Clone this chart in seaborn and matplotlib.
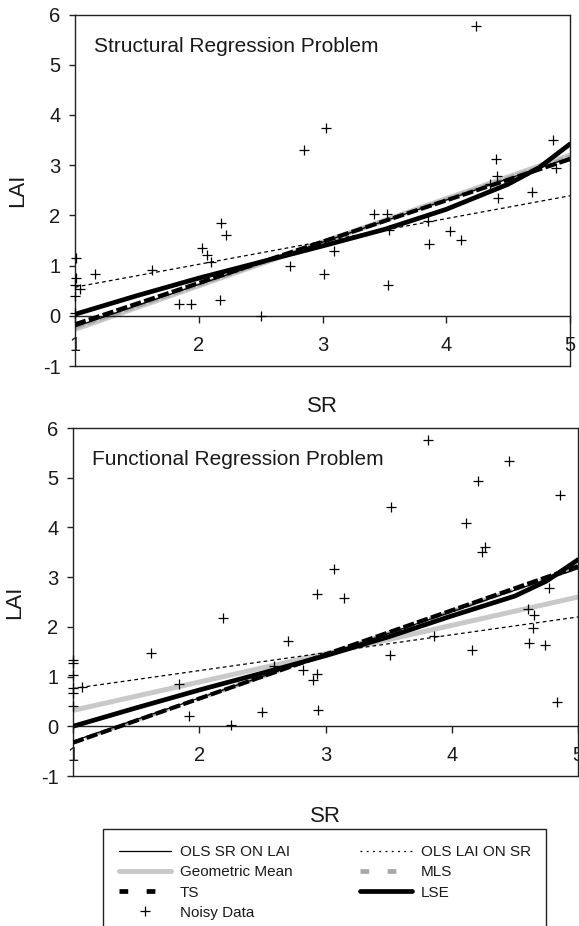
import matplotlib
matplotlib.use("Agg")
import matplotlib.pyplot as plt
from matplotlib.lines import Line2D
from matplotlib.patches import Rectangle
import seaborn as sns

# ---- data ----
line_sr = [1, 5]
curve_sr = [1, 1.5, 2, 2.5, 3, 3.5, 4, 4.5, 4.75, 5]

# structural regression problem
struct_ols_sr_on_lai = [-0.22, 3.15]
struct_geo_mean = [-0.27, 3.20]
struct_mls = [-0.24, 3.17]
struct_ts = [-0.17, 3.12]
struct_ols_lai_on_sr = [0.57, 2.39]
struct_lse = [0.03, 0.40, 0.75, 1.07, 1.39, 1.72, 2.12, 2.62, 2.95, 3.42]
struct_pts_sr = [4.24, 3.03, 2.85, 4.86, 4.40, 4.41, 4.35, 4.42, 4.69, 4.89,
                 3.42, 3.52, 3.54, 3.85, 3.86, 4.03, 4.12, 3.53, 2.18, 2.22,
                 2.03, 2.07, 2.10, 3.09, 3.01, 2.74, 1.62, 1.16, 1.04, 1.01,
                 1.01, 1.00, 1.00, 1.84, 1.94, 2.17, 2.50, 1.00]
struct_pts_lai = [5.77, 3.73, 3.31, 3.51, 3.13, 2.79, 2.63, 2.34, 2.47, 2.95,
                  2.02, 2.02, 1.70, 1.89, 1.43, 1.68, 1.51, 0.61, 1.85, 1.61,
                  1.35, 1.22, 1.07, 1.30, 0.84, 0.99, 0.91, 0.83, 0.54, 1.15,
                  0.75, 0.62, 0.39, 0.23, 0.23, 0.32, 0.00, 0.05]

# functional regression problem
func_ols_sr_on_lai = [-0.30, 3.17]
func_geo_mean = [0.32, 2.60]
func_mls = [-0.32, 3.19]
func_ts = [-0.33, 3.22]
func_ols_lai_on_sr = [0.76, 2.20]
func_lse = [0.00, 0.37, 0.73, 1.07, 1.42, 1.80, 2.22, 2.62, 2.92, 3.35]
func_pts_sr = [3.81, 4.45, 4.21, 4.86, 3.52, 4.11, 4.26, 4.24, 3.07, 2.93,
               3.15, 4.77, 4.60, 4.65, 4.64, 4.61, 4.74, 4.16, 3.86, 3.51,
               2.19, 2.70, 2.59, 2.82, 2.93, 2.90, 1.62, 1.84, 1.07, 1.00,
               1.00, 1.00, 1.00, 1.00, 1.00, 1.92, 2.50, 2.94, 4.83, 2.25]
func_pts_lai = [5.75, 5.33, 4.94, 4.65, 4.42, 4.09, 3.61, 3.50, 3.16, 2.67,
                2.58, 2.78, 2.36, 2.23, 1.98, 1.68, 1.64, 1.54, 1.81, 1.44,
                2.18, 1.71, 1.21, 1.14, 1.05, 0.94, 1.48, 0.85, 0.79, 1.34,
                1.27, 1.04, 0.77, 0.67, 0.41, 0.21, 0.29, 0.32, 0.49, 0.02]

x_ticks = [1, 2, 3, 4, 5]
y_ticks = [-1, 0, 1, 2, 3, 4, 5, 6]

sns.set_style("white")
plt.rcParams["font.family"] = ["Liberation Sans", "DejaVu Sans"]
TXT = "#1a1a1a"
AX = "#222222"
LIGHT = "#c9c9c9"
MID = "#a8a8a8"

STYLE = {
    "geo": dict(color=LIGHT, linewidth=3.6, linestyle="-", zorder=1),
    "mls": dict(color=MID, linewidth=2.6, linestyle=(0, (2.7, 0.9)), zorder=2),
    "ols_sr": dict(color="black", linewidth=0.9, linestyle="-", zorder=3),
    "ts": dict(color="black", linewidth=3.0, linestyle=(0, (2.7, 0.8)), zorder=4),
    "lse": dict(color="black", linewidth=3.4, linestyle="-", zorder=5),
    "ols_lai": dict(color="black", linewidth=0.9, linestyle=(0, (3, 2.5)), zorder=6),
}


def draw_panel(ax, title, ols_sr, geo, mls, ts, ols_lai, lse, pts_x, pts_y):
    sns.lineplot(x=line_sr, y=geo, ax=ax, sort=False, estimator=None, **STYLE["geo"])
    sns.lineplot(x=line_sr, y=mls, ax=ax, sort=False, estimator=None, **STYLE["mls"])
    sns.lineplot(x=line_sr, y=ols_sr, ax=ax, sort=False, estimator=None, **STYLE["ols_sr"])
    sns.lineplot(x=line_sr, y=ts, ax=ax, sort=False, estimator=None, **STYLE["ts"])
    sns.lineplot(x=curve_sr, y=lse, ax=ax, sort=False, estimator=None, **STYLE["lse"])
    sns.lineplot(x=line_sr, y=ols_lai, ax=ax, sort=False, estimator=None, **STYLE["ols_lai"])
    sns.scatterplot(x=pts_x, y=pts_y, ax=ax, marker="+", color="black", s=45,
                    linewidth=0.9, zorder=7, clip_on=False)

    ax.set_xlim(1, 5)
    ax.set_ylim(-1, 6)
    ax.set_xticks(x_ticks)
    ax.set_yticks(y_ticks)
    ax.set_xticklabels([str(t) for t in x_ticks])
    ax.set_yticklabels([str(t) for t in y_ticks])
    for s in ax.spines.values():
        s.set_visible(True)
        s.set_color(AX)
        s.set_linewidth(1.0)
    # x axis crosses at LAI = 0, frame still closed at -1
    ax.spines["bottom"].set_position(("data", 0))
    ax.axhline(-1, color=AX, linewidth=1.0, clip_on=False, zorder=8)
    ax.tick_params(axis="x", direction="out", length=5, width=1, pad=9.5,
                   labelsize=14.5, colors=AX, labelcolor=TXT, bottom=True)
    ax.tick_params(axis="y", direction="out", length=4.5, width=1, pad=6,
                   labelsize=14.5, colors=AX, labelcolor=TXT, left=True)
    ax.set_xlabel("SR", fontsize=16, color=TXT)
    ax.set_ylabel("LAI", fontsize=16, color=TXT)
    ax.xaxis.set_label_coords(0.5, -0.085)
    ax.yaxis.set_label_coords(-0.095, 0.5)
    ax.text(1.15, 5.25, title, fontsize=15, color=TXT, va="baseline", ha="left")


fig = plt.figure(figsize=(5.79, 9.26), dpi=100)
ax_top = fig.add_axes([75 / 579, 1 - 366 / 926, 495 / 579, 351.5 / 926])
ax_bot = fig.add_axes([73 / 579, 1 - 776 / 926, 505 / 579, 348 / 926])

draw_panel(ax_top, "Structural Regression Problem", struct_ols_sr_on_lai, struct_geo_mean,
           struct_mls, struct_ts, struct_ols_lai_on_sr, struct_lse,
           struct_pts_sr, struct_pts_lai)
draw_panel(ax_bot, "Functional Regression Problem", func_ols_sr_on_lai, func_geo_mean,
           func_mls, func_ts, func_ols_lai_on_sr, func_lse,
           func_pts_sr, func_pts_lai)

# legend (Excel style, frame runs off the bottom of the picture)
handles = [
    Line2D([], [], color="black", linewidth=0.9),
    Line2D([], [], color=LIGHT, linewidth=3.6),
    Line2D([], [], color="black", linewidth=3.4, linestyle=(0, (1.85, 3.9))),
    Line2D([], [], color="black", linestyle="none", marker="+", markersize=7, markeredgewidth=0.9),
    Line2D([], [], color="black", linewidth=0.9, linestyle=(0, (1.5, 3.5))),
    Line2D([], [], color=MID, linewidth=3.4, linestyle=(0, (1.85, 3.9))),
    Line2D([], [], color="black", linewidth=3.4),
]
labels = ["OLS SR ON LAI", "Geometric Mean", "TS", "Noisy Data",
          "OLS LAI ON SR", "MLS", "LSE"]
leg = fig.legend(handles, labels, loc="upper left", bbox_to_anchor=(119 / 579, 1 - 845 / 926),
                 ncol=2, frameon=False, fontsize=11, handlelength=3.4, handletextpad=0.6,
                 columnspacing=4.4, labelspacing=0.41, borderpad=0, borderaxespad=0)
for t in leg.get_texts():
    t.set_color(TXT)
fig.patches.append(Rectangle((103 / 579, -0.05), (546 - 103) / 579, 0.05 + 1 - 829 / 926,
                             transform=fig.transFigure, fill=False, edgecolor=AX,
                             linewidth=1.0))

fig.savefig("out.png", dpi=100)
